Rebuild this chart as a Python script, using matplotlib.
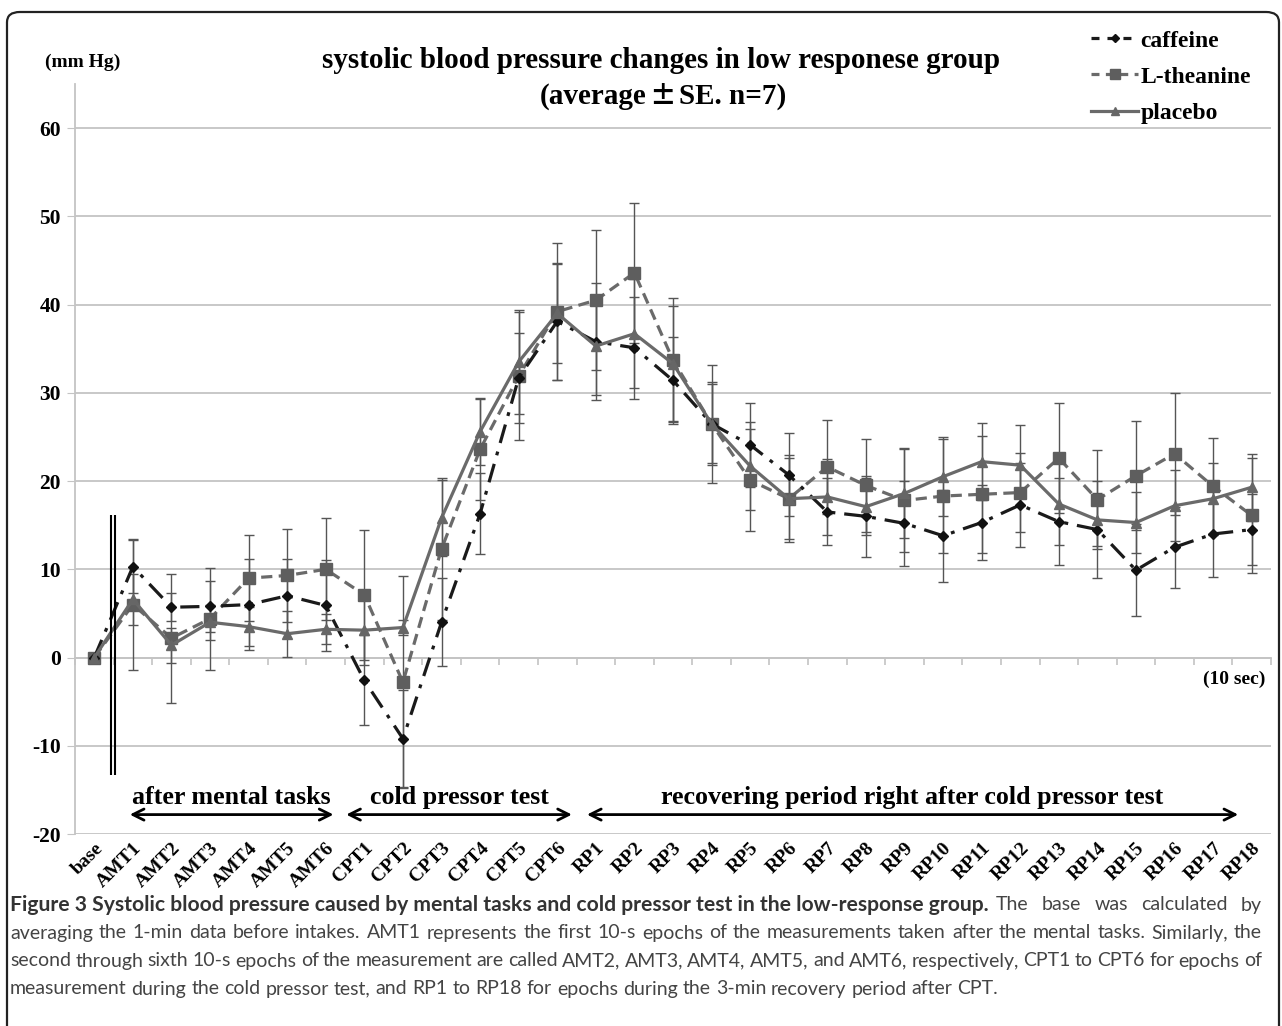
import matplotlib
matplotlib.use('Agg')
import matplotlib.pyplot as plt
import numpy as np
from matplotlib.patches import FancyBboxPatch
from matplotlib.lines import Line2D
from matplotlib.font_manager import FontProperties

plt.rcParams['axes.unicode_minus'] = False

# ---------------- data ----------------
categories = ['base', 'AMT1', 'AMT2', 'AMT3', 'AMT4', 'AMT5', 'AMT6',
              'CPT1', 'CPT2', 'CPT3', 'CPT4', 'CPT5', 'CPT6',
              'RP1', 'RP2', 'RP3', 'RP4', 'RP5', 'RP6', 'RP7', 'RP8', 'RP9',
              'RP10', 'RP11', 'RP12', 'RP13', 'RP14', 'RP15', 'RP16', 'RP17', 'RP18']

caffeine = [0, 10.3, 5.7, 5.8, 6.0, 7.0, 5.9,
            -2.6, -9.2, 4.0, 16.3, 31.7, 38.1,
            35.8, 35.1, 31.4, 26.5, 24.1, 20.7, 16.5, 16.0, 15.2,
            13.8, 15.3, 17.3, 15.4, 14.5, 9.9, 12.5, 14.0, 14.5]
caffeine_se = [0, 3.0, 1.6, 2.9, 5.2, 4.2, 5.2,
               5.1, 5.5, 5.0, 4.6, 5.1, 6.6,
               6.6, 5.8, 4.9, 4.7, 4.8, 4.7, 3.8, 4.6, 4.8,
               5.2, 4.2, 4.8, 4.9, 5.5, 5.2, 4.6, 4.9, 4.0]

ltheanine = [0, 6.0, 2.2, 4.4, 9.0, 9.3, 10.0,
             7.1, -2.8, 12.3, 23.6, 31.9, 39.2,
             40.5, 43.6, 33.7, 26.5, 20.1, 18.0, 21.6, 19.5, 17.8,
             18.3, 18.5, 18.7, 22.6, 17.9, 20.6, 23.1, 19.4, 16.1]
ltheanine_se = [0, 7.4, 7.3, 5.8, 4.9, 5.3, 5.8,
                7.4, 12.0, 8.0, 5.7, 7.3, 7.8,
                7.9, 7.9, 7.0, 6.7, 5.8, 4.9, 5.3, 5.3, 5.8,
                6.5, 6.6, 4.5, 6.2, 5.6, 6.2, 6.9, 5.5, 6.5]

placebo = [0, 6.6, 1.4, 4.0, 3.5, 2.7, 3.2,
           3.1, 3.4, 15.8, 25.6, 33.5, 39.0,
           35.3, 36.7, 33.3, 26.5, 21.7, 18.0, 18.2, 17.1, 18.6,
           20.5, 22.2, 21.8, 17.4, 15.6, 15.3, 17.2, 18.0, 19.3]
placebo_se = [0, 2.9, 2.0, 2.0, 2.2, 2.6, 1.7,
              4.0, 0.8, 4.3, 3.8, 5.9, 5.6,
              5.6, 6.2, 6.5, 4.5, 5.0, 4.6, 4.3, 3.2, 5.1,
              4.5, 4.4, 4.6, 4.6, 3.0, 3.5, 4.0, 4.0, 3.8]

series_names = ['caffeine', 'L-theanine', 'placebo']
y_ticks = [-20, -10, 0, 10, 20, 30, 40, 50, 60]

periods = ['after mental tasks', 'cold pressor test',
           'recovering period right after cold pressor test']
period_spans = [(0.92, 6.2), (6.53, 12.38), (12.77, 29.65)]

title_line1 = 'systolic blood pressure changes in low responese group'
title_line2_parts = ['(average', '\u00b1', 'SE. n=7)']

caption_bold = ('Figure 3 Systolic blood pressure caused by mental tasks and cold '
                'pressor test in the low-response group.')
caption_rest = 'The base was calculated by'
caption_lines = ['averaging the 1-min data before intakes. AMT1 represents the first 10-s epochs of the measurements taken after the mental tasks. Similarly, the',
                 'second through sixth 10-s epochs of the measurement are called AMT2, AMT3, AMT4, AMT5, and AMT6, respectively, CPT1 to CPT6 for epochs of',
                 'measurement during the cold pressor test, and RP1 to RP18 for epochs during the 3-min recovery period after CPT.']

# ---------------- figure ----------------
W, H = 1282, 1026
fig = plt.figure(figsize=(W / 100, H / 100), dpi=100)
fig.patch.set_facecolor('white')

serif = 'Liberation Serif'
ax_left, ax_right, ax_bottom, ax_top = 75, 1271, 834, 84
ax = fig.add_axes([ax_left / W, 1 - ax_bottom / H,
                   (ax_right - ax_left) / W, (ax_bottom - ax_top) / H])

x = np.arange(len(categories))
ymin, ymax = -20, 65
ax.set_xlim(-0.5, len(categories) - 0.5)
ax.set_ylim(ymin, ymax)

grid_c = '#c4c4c4'
ax.set_yticks(y_ticks)
ax.yaxis.grid(True, color=grid_c, lw=1.3, zorder=0)
ax.set_axisbelow(True)
for s in ['top', 'right', 'bottom']:
    ax.spines[s].set_visible(False)
ax.spines['left'].set_color(grid_c)
ax.spines['left'].set_linewidth(1.3)
ax.tick_params(axis='y', length=6, color=grid_c, pad=4)
for lab in ax.get_yticklabels():
    lab.set_fontfamily(serif)
    lab.set_fontweight('bold')
    lab.set_fontsize(15.5)

ax.set_xticks(x)
ax.set_xticklabels(categories, rotation=45, ha='right', rotation_mode='anchor',
                   fontfamily=serif, fontweight='bold', fontsize=14)
ax.tick_params(axis='x', length=0, pad=4)

# zero axis with tick marks between categories
sec = ax.secondary_xaxis((0 - ymin) / (ymax - ymin))
sec.set_xticks(np.arange(-0.5, len(categories), 1.0))
sec.tick_params(axis='x', direction='out', length=5, width=1.2, color=grid_c,
                labelbottom=False, labeltop=False)
for s in sec.spines.values():
    s.set_color(grid_c)
    s.set_linewidth(1.3)

# series
styles = {
    'caffeine': dict(color='#1a1a1a', ls=(0, (6, 2.8, 1.2, 2.8)), marker='D', ms=5.5,
                     mfc='#111111', mec='#111111'),
    'L-theanine': dict(color='#6a6a6a', ls=(0, (3.5, 2)), marker='s', ms=8.5,
                       mfc='#5e5e5e', mec='#5e5e5e'),
    'placebo': dict(color='#6a6a6a', ls='-', marker='^', ms=7.5,
                    mfc='#666666', mec='#666666'),
}
legend_ls = {'caffeine': (0, (2.5, 2.5)), 'L-theanine': (0, (2.5, 2)), 'placebo': '-'}
data = {'caffeine': (caffeine, caffeine_se),
        'L-theanine': (ltheanine, ltheanine_se),
        'placebo': (placebo, placebo_se)}
zorders = {'caffeine': 5, 'L-theanine': 4, 'placebo': 6}
handles = []
for name in series_names:
    vals, se = data[name]
    vals = np.array(vals, dtype=float)
    se = np.array(se, dtype=float)
    ax.errorbar(x[1:], vals[1:], yerr=se[1:], fmt='none', ecolor='#555555',
                elinewidth=1.0, capsize=3.5, capthick=1.0, zorder=3)
    st = styles[name]
    ax.plot(x, vals, color=st['color'], ls=st['ls'], lw=2.3,
            marker=st['marker'], ms=st['ms'], mfc=st['mfc'], mec=st['mec'],
            zorder=zorders[name], label=name)
    handles.append(Line2D([], [], color=st['color'], ls=legend_ls[name], lw=2.3,
                          marker=st['marker'], ms=st['ms'] * 0.8,
                          mfc=st['mfc'], mec=st['mec']))

# double vertical line after base
ax.vlines([0.43, 0.53], -13.3, 16.1, color='black', lw=1.5, zorder=7)

# period annotations
for label, (a, b) in zip(periods, period_spans):
    ax.annotate('', xy=(b, -17.8), xytext=(a, -17.8),
                arrowprops=dict(arrowstyle='<->', lw=2.0, color='black',
                                mutation_scale=20, shrinkA=0, shrinkB=0))
    ax.text((a + b) / 2, -15.9, label, ha='center', va='center',
            fontfamily=serif, fontweight='bold', fontsize=18.7)

ax.text(30.35, -2.5, '(10 sec)', ha='right', va='center',
        fontfamily=serif, fontweight='bold', fontsize=14)

# title and unit
fig.text(661 / W, 1 - 60 / H, title_line1, ha='center', va='center',
         fontfamily=serif, fontweight='bold', fontsize=21)
fig.text(83 / W, 1 - 62 / H, '(mm Hg)', ha='center', va='center',
         fontfamily=serif, fontweight='bold', fontsize=14)

fig.canvas.draw()
r = fig.canvas.get_renderer()


def text_width(txt, kw):
    t = fig.text(0, 0, txt, **kw)
    w = t.get_window_extent(renderer=r).width
    t.remove()
    return w


def fit_size(txt, kw, target):
    k = dict(kw)
    k['fontsize'] = 10
    return 10 * target / text_width(txt, k)


def place_pieces(pieces, y_px, x_start=None, x_end=None, center=None, gap=0.0):
    objs = []
    for txt, kw in pieces:
        t = fig.text(0, 1 - y_px / H, txt, ha='left', va='center', **kw)
        objs.append(t)
    widths = [t.get_window_extent(renderer=r).width for t in objs]
    total = sum(widths)
    if x_end is not None and len(objs) > 1:
        g = (x_end - x_start - total) / (len(objs) - 1)
    else:
        g = gap
    if center is not None:
        x_start = center - (total + g * (len(objs) - 1)) / 2
    xpos = x_start
    for t, w in zip(objs, widths):
        t.set_x(xpos / W)
        xpos += w + g
    return objs


tkw = dict(fontfamily=serif, fontweight='bold', fontsize=21)
pm_kw = dict(fontfamily=['Noto Sans CJK JP'], fontweight='bold', fontsize=19)
place_pieces([(title_line2_parts[0], tkw), (title_line2_parts[1], pm_kw),
              (title_line2_parts[2], tkw)], 97, center=663, gap=3)

# legend
leg = fig.legend(handles, series_names, loc='upper left',
                 bbox_to_anchor=(1091 / W, 1 - 30 / H), frameon=False,
                 prop=FontProperties(family=serif, weight='bold', size=17),
                 handlelength=2.0, handletextpad=0.1, labelspacing=0.62,
                 borderpad=0, borderaxespad=0)

# outer frame
frame = FancyBboxPatch((7 / W, -0.05), (1279 - 7) / W, 1 - 12 / H + 0.05,
                       boxstyle='round,pad=0,rounding_size=0.01',
                       transform=fig.transFigure, fill=False,
                       ec='#222222', lw=1.6)
fig.add_artist(frame)

# caption (justified like the source layout)
cap_font = 'Lato'
cx0, cx1 = 10, 1262
norm_base = dict(fontfamily=cap_font, color='#444444')
bold_base = dict(fontfamily=cap_font, fontweight='bold', color='#333333')
norm_size = fit_size(caption_lines[0], norm_base, (cx1 - cx0) * 0.985)
norm_kw = dict(norm_base, fontsize=norm_size)
space_w = text_width('a a', norm_kw) - text_width('aa', norm_kw)
bold_size = fit_size(caption_bold, bold_base, 985)
bold_kw = dict(bold_base, fontsize=bold_size)

y0 = 905
b = fig.text(cx0 / W, 1 - y0 / H, caption_bold, ha='left', va='center', **bold_kw)
bx1 = b.get_window_extent(renderer=r).x1
rest = [(w, norm_kw) for w in caption_rest.split(' ')]
place_pieces(rest, y0, bx1 + space_w * 1.5, cx1)
for i, line in enumerate(caption_lines):
    words = [(w, norm_kw) for w in line.split(' ')]
    yy = y0 + 28 * (i + 1)
    if i < len(caption_lines) - 1:
        place_pieces(words, yy, cx0, cx1)
    else:
        place_pieces(words, yy, x_start=cx0, gap=space_w)

fig.savefig('out.png', dpi=100)
